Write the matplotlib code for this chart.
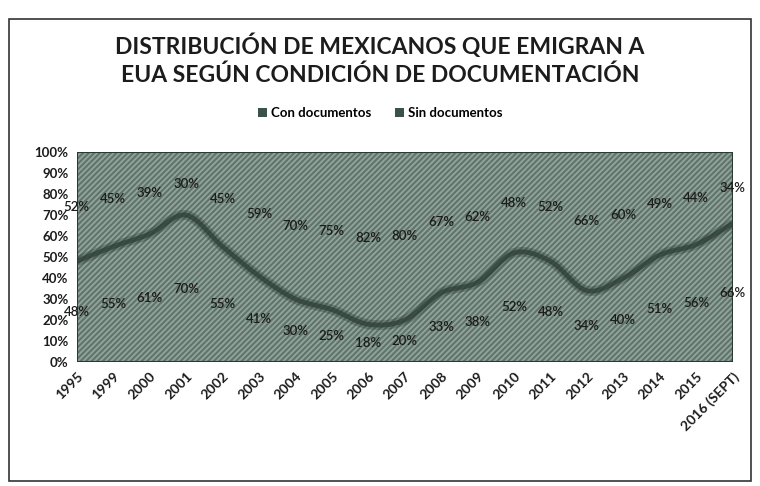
import numpy as np
import matplotlib.pyplot as plt
from matplotlib.path import Path
from matplotlib.patches import PathPatch, Rectangle

# Data (percent)
years = ['1995', '1999', '2000', '2001', '2002', '2003', '2004', '2005', '2006',
         '2007', '2008', '2009', '2010', '2011', '2012', '2013', '2014', '2015',
         '2016 (SEPT)']
con_documentos = [48, 55, 61, 70, 55, 41, 30, 25, 18, 20, 33, 38, 52, 48, 34, 40, 51, 56, 66]
sin_documentos = [52, 45, 39, 30, 45, 59, 70, 75, 82, 80, 67, 62, 48, 52, 66, 60, 49, 44, 34]

FILL = '#5f756c'
HATCH = '#93a49c'
LINE = '#2a3b34'
TEXT = '#1c1c1c'

plt.rcParams['font.family'] = ['Lato', 'DejaVu Sans']
plt.rcParams['hatch.linewidth'] = 1.3


def smooth_path(x, y):
    # Catmull-Rom style bezier segments, like Excel's "smoothed line"
    verts = [(x[0], y[0])]
    codes = [Path.MOVETO]
    n = len(x)
    for i in range(n - 1):
        x0, y0 = (x[i - 1], y[i - 1]) if i > 0 else (x[i], y[i])
        x1, y1 = x[i], y[i]
        x2, y2 = x[i + 1], y[i + 1]
        x3, y3 = (x[i + 2], y[i + 2]) if i + 2 < n else (x2, y2)
        c1 = (x1 + (x2 - x0) / 6, y1 + (y2 - y0) / 6)
        c2 = (x2 - (x3 - x1) / 6, y2 - (y3 - y1) / 6)
        verts += [c1, c2, (x2, y2)]
        codes += [Path.CURVE4] * 3
    return verts, codes


fig = plt.figure(figsize=(7.6, 4.86), dpi=100)
ax = fig.add_axes([0.101, 0.255, 0.863, 0.432])

x = np.arange(len(years))
bottom = np.array(con_documentos, dtype=float)

# top series: from the boundary up to 100%
ax.add_patch(Rectangle((0, 0), len(years) - 1, 100, facecolor=FILL,
                       edgecolor=HATCH, hatch='//////', lw=0, zorder=1))

# bottom series: smoothed area
bv, bc = smooth_path(x, bottom)
verts = bv + [(x[-1], 0), (x[0], 0), (x[0], bottom[0])]
codes = bc + [Path.LINETO, Path.LINETO, Path.CLOSEPOLY]
ax.add_patch(PathPatch(Path(verts, codes), facecolor=FILL, edgecolor=HATCH,
                       hatch='//////', lw=0, zorder=2))
# soft dark boundary between the two areas
ax.add_patch(PathPatch(Path(bv, bc), facecolor='none', edgecolor=LINE,
                       lw=7, alpha=0.35, zorder=3))
ax.add_patch(PathPatch(Path(bv, bc), facecolor='none', edgecolor=LINE,
                       lw=3.5, alpha=0.7, zorder=3))

# border of the plot
ax.add_patch(Rectangle((0, 0), len(years) - 1, 100, facecolor='none',
                       edgecolor='#2a3a33', lw=1.5, zorder=4))

for i in range(len(years)):
    ax.text(x[i], bottom[i] / 2, f'{con_documentos[i]}%', ha='center', va='center',
            fontsize=9.5, color=TEXT, fontweight='semibold', zorder=5)
    ax.text(x[i], bottom[i] + sin_documentos[i] / 2, f'{sin_documentos[i]}%',
            ha='center', va='center', fontsize=9.5, color=TEXT,
            fontweight='semibold', zorder=5)

ax.set_xlim(0, len(years) - 1)
ax.set_ylim(0, 100)
ax.set_yticks(range(0, 101, 10))
ax.set_yticklabels([f'{v}%' for v in range(0, 101, 10)], fontweight='bold',
                   fontsize=9.5, color=TEXT)
ax.set_xticks(x)
ax.set_xticklabels(years, rotation=45, ha='right', rotation_mode='anchor',
                   fontweight='bold', fontsize=10, color=TEXT)
ax.tick_params(length=0, pad=6)
for s in ax.spines.values():
    s.set_visible(False)

fig.text(0.5, 0.905, 'DISTRIBUCIÓN DE MEXICANOS QUE EMIGRAN A',
         ha='center', va='center', fontsize=16.5, fontweight='bold', color=TEXT)
fig.text(0.5, 0.845, 'EUA SEGÚN CONDICIÓN DE DOCUMENTACIÓN',
         ha='center', va='center', fontsize=16.5, fontweight='bold', color=TEXT)

handles = [Rectangle((0, 0), 1, 1, facecolor='#3a5249', edgecolor='none'),
           Rectangle((0, 0), 1, 1, facecolor='#3a5249', edgecolor='none')]
fig.legend(handles, ['Con documentos', 'Sin documentos'], loc='center',
           bbox_to_anchor=(0.5, 0.768), ncol=2, frameon=False,
           handlelength=0.7, handleheight=0.7, handletextpad=0.3,
           columnspacing=1.8, prop={'weight': 'bold', 'size': 9.5})

# outer frame of the clipping
fig.patches.append(Rectangle((0.012, 0.01), 0.976, 0.95, transform=fig.transFigure,
                             facecolor='none', edgecolor='#333333', lw=1.2))

fig.savefig('out.png', dpi=100)
